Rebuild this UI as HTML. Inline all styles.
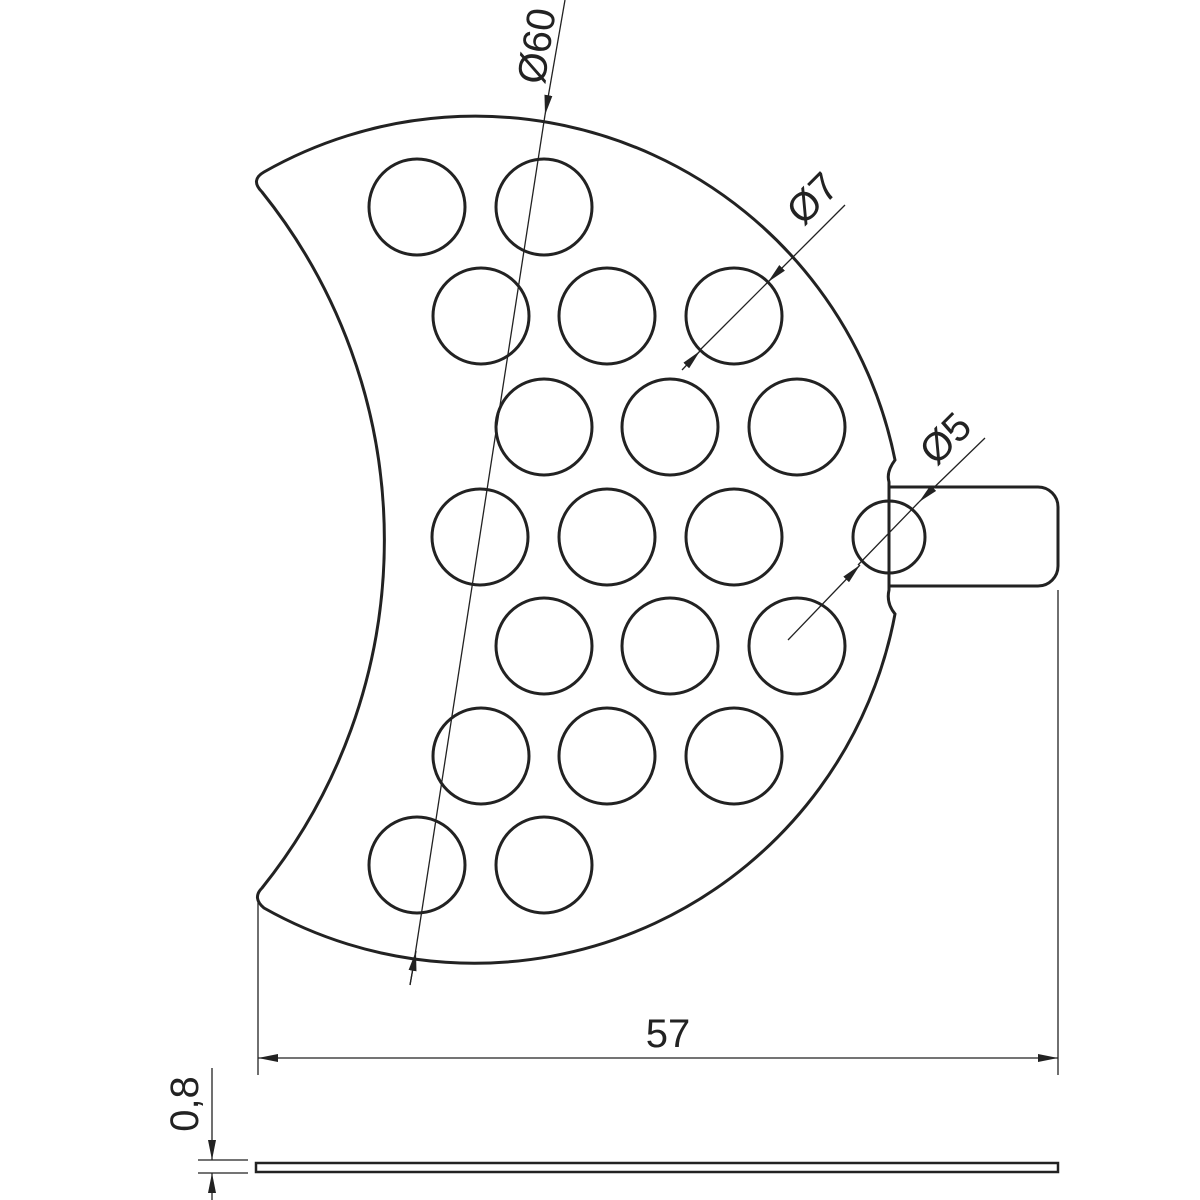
<!DOCTYPE html>
<html><head><style>body{margin:0;background:#fff}svg{display:block}</style></head><body>
<svg width="1200" height="1200" viewBox="0 0 1200 1200" xmlns="http://www.w3.org/2000/svg">
<defs><marker id="a" viewBox="0 0 20 8" refX="20" refY="4" markerWidth="20" markerHeight="8" markerUnits="userSpaceOnUse" orient="auto"><path d="M0 0L20 4L0 8z" fill="#222"/></marker></defs>
<g fill="none" stroke="#222" stroke-width="3">
<path d="M262 192 A556 556 0 0 1 262 888 Q252 898 264 908 A428 428 0 0 0 895 614 Q886 603 889 590 V482 Q886 472 895 460 A428 428 0 0 0 264 172 Q250 180 262 192Z"/>
<path d="M889 487 H1038 A20 20 0 0 1 1058 507 V566 A20 20 0 0 1 1038 586 H889"/>
<g>
<circle cx="417" cy="207" r="48"/><circle cx="544" cy="207" r="48"/>
<circle cx="481" cy="316" r="48"/><circle cx="607" cy="316" r="48"/><circle cx="734" cy="316" r="48"/>
<circle cx="544" cy="427" r="48"/><circle cx="670" cy="427" r="48"/><circle cx="797" cy="427" r="48"/>
<circle cx="480" cy="537" r="48"/><circle cx="607" cy="537" r="48"/><circle cx="734" cy="537" r="48"/>
<circle cx="544" cy="646" r="48"/><circle cx="670" cy="646" r="48"/><circle cx="797" cy="646" r="48"/>
<circle cx="481" cy="756" r="48"/><circle cx="607" cy="756" r="48"/><circle cx="734" cy="756" r="48"/>
<circle cx="417" cy="865" r="48"/><circle cx="544" cy="865" r="48"/>
<circle cx="889" cy="537" r="36"/>
</g>
<rect x="256" y="1163" width="802" height="9" stroke-width="2.5"/>
</g>
<g stroke="#222" stroke-width="1.3" fill="none">
<line x1="565" y1="0" x2="545" y2="115" marker-end="url(#a)"/>
<line x1="545" y1="115" x2="413" y2="968"/>
<line x1="410" y1="985" x2="413" y2="968"/>
<line x1="413" y1="968" x2="416" y2="951" stroke="none"/>
<path d="M410 985 L416 951" marker-end="url(#a)"/>
<line x1="845" y1="205" x2="768" y2="282" marker-end="url(#a)"/>
<line x1="768" y1="282" x2="700" y2="350"/>
<line x1="682" y1="370" x2="700" y2="351" marker-end="url(#a)"/>
<line x1="985" y1="438" x2="919" y2="502" marker-end="url(#a)"/>
<line x1="919" y1="502" x2="858" y2="565"/>
<line x1="788" y1="640" x2="860" y2="565" marker-end="url(#a)"/>
<line x1="258" y1="892" x2="258" y2="1075"/>
<line x1="1058" y1="590" x2="1058" y2="1075"/>
<line x1="658" y1="1058" x2="258" y2="1058" marker-end="url(#a)"/>
<line x1="658" y1="1058" x2="1058" y2="1058" marker-end="url(#a)"/>
<line x1="198" y1="1160" x2="248" y2="1160"/>
<line x1="198" y1="1173" x2="248" y2="1173"/>
<line x1="212" y1="1068" x2="212" y2="1160" marker-end="url(#a)"/>
<line x1="212" y1="1200" x2="212" y2="1173" marker-end="url(#a)"/>
</g>
<g font-family="Liberation Sans, sans-serif" font-size="40" fill="#222">
<text x="668" y="1047" text-anchor="middle">57</text>
<text transform="translate(550,48) rotate(-81)" text-anchor="middle">Ø60</text>
<text transform="translate(822,208) rotate(-45)" text-anchor="middle">Ø7</text>
<text transform="translate(955,448) rotate(-45)" text-anchor="middle">Ø5</text>
<text transform="translate(198,1104) rotate(-90)" text-anchor="middle">0,8</text>
</g>
</svg>
</body></html>
